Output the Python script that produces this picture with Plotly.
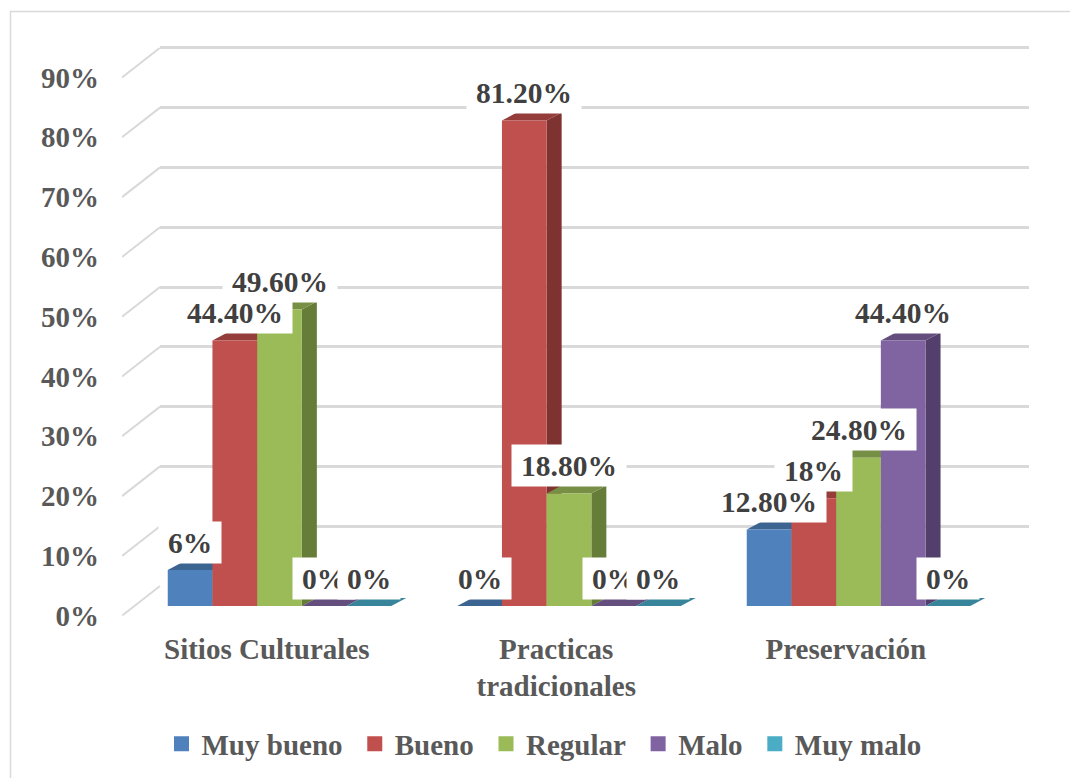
import plotly.graph_objects as go

W, H = 1070, 778

categories = ["Sitios Culturales", "Practicas<br>tradicionales", "Preservación"]
series_names = ["Muy bueno", "Bueno", "Regular", "Malo", "Muy malo"]
muy_bueno = [6, 0, 12.8]
bueno = [44.4, 81.2, 18]
regular = [49.6, 18.8, 24.8]
malo = [0, 0, 44.4]
muy_malo = [0, 0, 0]
label_muy_bueno = ["6%", "0%", "12.80%"]
label_bueno = ["44.40%", "81.20%", "18%"]
label_regular = ["49.60%", "18.80%", "24.80%"]
label_malo = ["0%", "0%", "44.40%"]
label_muy_malo = ["0%", "0%", "0%"]
y_ticks = [0, 10, 20, 30, 40, 50, 60, 70, 80, 90]
y_tick_labels = ["0%", "10%", "20%", "30%", "40%", "50%", "60%", "70%", "80%", "90%"]

series = [muy_bueno, bueno, regular, malo, muy_malo]
labels = [label_muy_bueno, label_bueno, label_regular, label_malo, label_muy_malo]
front_colors = ["#4F81BD", "#C0504D", "#9BBB59", "#8064A2", "#4BACC6"]
top_colors = ["#3C6491", "#943D3B", "#778E45", "#634E7D", "#38849B"]
side_colors = ["#2F4E72", "#7F3331", "#667C39", "#533F6B", "#2E6C7F"]

FONT = "Liberation Serif"
GRID = "#D9D9D9"
PX_PER_PCT = 5.98
Y_MAX = 95                # a bit above the last tick, so the 90% line is not cut
BAR_W = 44.7 / 289.5      # bar width in category units
DX = 15 / 289.5           # depth of a bar
DY = 8 / PX_PER_PCT
WALL_DX = 38 / 289.5      # front plane to back wall
WALL_DY = 29.7 / PX_PER_PCT


def xdom(left):
    return [left / W, (left + 868.5) / W]


def ydom(zero_px):
    return [1 - zero_px / H, 1 - (zero_px - Y_MAX * PX_PER_PCT) / H]


def text_w(t):
    return 29.5 * sum({"%": 1, ".": 0.25}.get(c, 0.5) for c in t)


fig = go.Figure()

# empty trace so the back wall subplot (and its gridlines) gets drawn
fig.add_trace(go.Scatter(x=[None], y=[None], xaxis="x", yaxis="y", hoverinfo="skip", showlegend=False))

# diagonal part of the gridlines, from the front plane to the back wall
diag_x, diag_y = [], []
for t in y_ticks:
    diag_x += [-0.5, -0.5 + WALL_DX, None]
    diag_y += [t, t + WALL_DY, None]
fig.add_trace(go.Scatter(x=diag_x, y=diag_y, xaxis="x2", yaxis="y2", mode="lines",
                         line=dict(color=GRID, width=2), cliponaxis=False,
                         hoverinfo="skip", showlegend=False))

# tops and sides of the bars
for s, vals in enumerate(series):
    left = -2.5 * BAR_W + s * BAR_W
    side_x, side_y, top_x, top_y = [], [], [], []
    for i, v in enumerate(vals):
        xl = i + left
        xr = xl + BAR_W
        side_x += [xr, xr + DX, xr + DX, xr, xr, None]
        side_y += [0, DY, v + DY, v, 0, None]
        top_x += [xl, xl + DX, xr + DX, xr, xl, None]
        top_y += [v, v + DY, v + DY, v, v, None]
    fig.add_trace(go.Scatter(x=side_x, y=side_y, xaxis="x3", yaxis="y3", mode="lines",
                             fill="toself", fillcolor=side_colors[s], line=dict(width=0),
                             cliponaxis=False, hoverinfo="skip", showlegend=False))
    fig.add_trace(go.Scatter(x=top_x, y=top_y, xaxis="x3", yaxis="y3", mode="lines",
                             fill="toself", fillcolor=top_colors[s], line=dict(width=0),
                             cliponaxis=False, hoverinfo="skip", showlegend=False))

# front faces
for s, vals in enumerate(series):
    fig.add_trace(go.Bar(x=[0, 1, 2], y=vals, name=series_names[s], xaxis="x4", yaxis="y4",
                         marker=dict(color=front_colors[s], line=dict(width=0)),
                         showlegend=False))

# legend entries, the no-break space widens the gap to the next entry
for s, name in enumerate(series_names):
    fig.add_trace(go.Scatter(x=[None], y=[None], name=name + "\u00a0", xaxis="x4", yaxis="y4", mode="markers",
                             marker=dict(symbol="square", size=15, color=front_colors[s])))

annotations = []
for s, vals in enumerate(series):
    for i, v in enumerate(vals):
        txt = labels[s][i]
        annotations.append(dict(
            x=i - 2 * BAR_W + s * BAR_W, y=v, xref="x4", yref="y4", yshift=28,
            text=txt, showarrow=False, xanchor="center", yanchor="middle",
            bgcolor="#FFFFFF", borderpad=2, width=text_w(txt) + 14, height=37,
            font=dict(family=FONT, size=29.5, color="#404040", weight=700)))

hidden = dict(visible=False, range=[-0.5, 2.5])
fig.update_layout(
    width=W, height=H, margin=dict(l=0, r=0, t=0, b=0, autoexpand=False),
    paper_bgcolor="#FFFFFF", plot_bgcolor="rgba(0,0,0,0)",
    barmode="group", bargap=1 - 5 * BAR_W, bargroupgap=0,
    annotations=annotations,
    showlegend=True,
    legend=dict(orientation="h", x=548 / W, xanchor="center", y=1 - 744 / H, yanchor="middle",
                font=dict(family=FONT, size=29, color="#595959", weight=700),
                bgcolor="rgba(0,0,0,0)"),
    # back wall with the gridlines
    xaxis=dict(domain=xdom(160), range=[-0.5, 2.5], visible=False, anchor="y"),
    yaxis=dict(domain=ydom(586), range=[0, Y_MAX], tickvals=y_ticks, showgrid=True, gridcolor=GRID, gridwidth=2.5,
               zeroline=False, showticklabels=False, ticks="", showline=False, anchor="x"),
    # front plane, carries the tick labels
    xaxis2=dict(domain=xdom(122), range=[-0.5, 2.5], anchor="y2", tickvals=[0, 1, 2], ticktext=categories,
                showgrid=False, zeroline=False, showline=False, ticks="", ticklabelstandoff=13,
                tickfont=dict(family=FONT, size=29, color="#595959", weight=700)),
    yaxis2=dict(domain=ydom(615.7), range=[0, Y_MAX], anchor="x2", tickvals=y_ticks, ticktext=y_tick_labels,
                showgrid=False, zeroline=False, showline=False, ticks="", ticklabelstandoff=22,
                tickfont=dict(family=FONT, size=29, color="#595959", weight=700)),
    # bars: sides first, front faces above them
    xaxis3=dict(domain=xdom(134.75), anchor="y3", **hidden),
    yaxis3=dict(domain=ydom(606), range=[0, Y_MAX], anchor="x3", visible=False),
    xaxis4=dict(domain=xdom(134.75), anchor="y4", **hidden),
    yaxis4=dict(domain=ydom(606), range=[0, Y_MAX], anchor="x4", visible=False),
    shapes=[dict(type="rect", xref="paper", yref="paper", x0=10.5 / W, x1=1.05,
                 y0=-0.05, y1=1 - 11.5 / H, line=dict(color=GRID, width=1.5))],
)

fig.write_html("out.html", config=dict(displayModeBar=False),
               post_script="document.body.style.margin='0';")
